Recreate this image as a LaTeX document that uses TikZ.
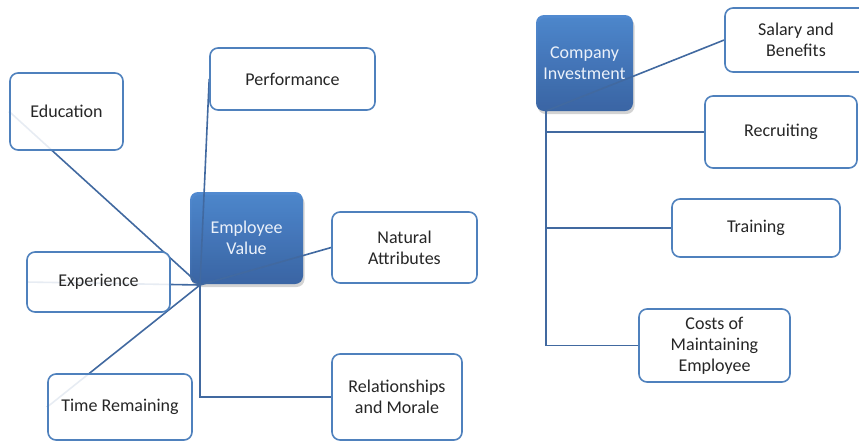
\documentclass[tikz,border=0pt]{standalone}
\usepackage{fontspec}
\setmainfont{Carlito}
\usepackage{tikz}
\usetikzlibrary{shadows}
\pgfdeclarelayer{background}
\pgfdeclarelayer{foreground}
\pgfsetlayers{background,main,foreground}

\definecolor{boxline}{RGB}{79,129,189}
\definecolor{linkline}{RGB}{65,105,160}
\definecolor{hubtop}{RGB}{66,128,204}
\definecolor{hubbot}{RGB}{45,92,160}

\tikzset{
  leaf/.style={draw=boxline, line width=0.8pt, rounded corners=4pt, fill=white, fill opacity=0.88, text opacity=1, align=center, inner sep=0pt, text=black!85},
  hub/.style={rounded corners=4pt, top color=hubtop, bottom color=hubbot, fill opacity=0.92, text opacity=1, align=center, inner sep=0pt, text={rgb,255:red,235;green,241;blue,250},
    drop shadow={opacity=0.35, shadow xshift=0.8pt, shadow yshift=-1.5pt}},
  link/.style={draw=linkline, line width=0.8pt}
}

\begin{document}
\begin{tikzpicture}[x=0.5pt, y=-0.5pt, font=\fontsize{9}{10.5}\selectfont]
\useasboundingbox (0,0) rectangle (859,441);
\begin{pgfonlayer}{background}
\node[hub, minimum width=56.5pt, minimum height=46pt] (ev) at (246.5,238) {Employee\\Value};
\node[hub, minimum width=48.5pt, minimum height=48pt] (ci) at (584.5,63) {Company\\Investment};
\end{pgfonlayer}
\begin{pgfonlayer}{foreground}
% employee value side
\node[leaf, minimum width=82.5pt, minimum height=31pt] (perf) at (292.5,79) {Performance};
\node[leaf, minimum width=56.5pt, minimum height=38.5pt] (edu) at (66.5,111.5) {Education};
\node[leaf, minimum width=71.5pt, minimum height=30pt] (exp) at (98.5,282) {Experience};
\node[leaf, minimum width=72pt, minimum height=33pt] (time) at (120,407) {Time Remaining};
\node[leaf, minimum width=72.5pt, minimum height=35.5pt] (nat) at (404.5,247.5) {Natural\\Attributes};
\node[leaf, minimum width=65pt, minimum height=43pt] (rel) at (397,397) {Relationships\\and Morale};
% company investment side
\node[leaf, minimum width=71pt, minimum height=32pt] (sal) at (796,40) {Salary and\\Benefits};
\node[leaf, minimum width=76pt, minimum height=36pt] (rec) at (781,132) {Recruiting};
\node[leaf, minimum width=84pt, minimum height=29pt] (tra) at (756,228) {Training};
\node[leaf, minimum width=75.5pt, minimum height=36.5pt] (cost) at (714.5,345.5) {Costs of\\Maintaining\\Employee};
\end{pgfonlayer}
\coordinate (evhub) at (200,285);
\coordinate (cihub) at (546,111);
\draw[link] (evhub) -- (perf.west);
\draw[link] (evhub) -- (edu.west);
\draw[link] (evhub) -- (exp.west);
\draw[link] (evhub) -- (time.west);
\draw[link] (evhub) -- (nat.west);
\draw[link] (evhub) |- (rel.west);
\draw[link] (cihub) -- (sal.west);
\draw[link] (cihub) |- (rec.west);
\draw[link] (cihub) |- (tra.west);
\draw[link] (cihub) |- (cost.west);
\end{tikzpicture}
\end{document}
